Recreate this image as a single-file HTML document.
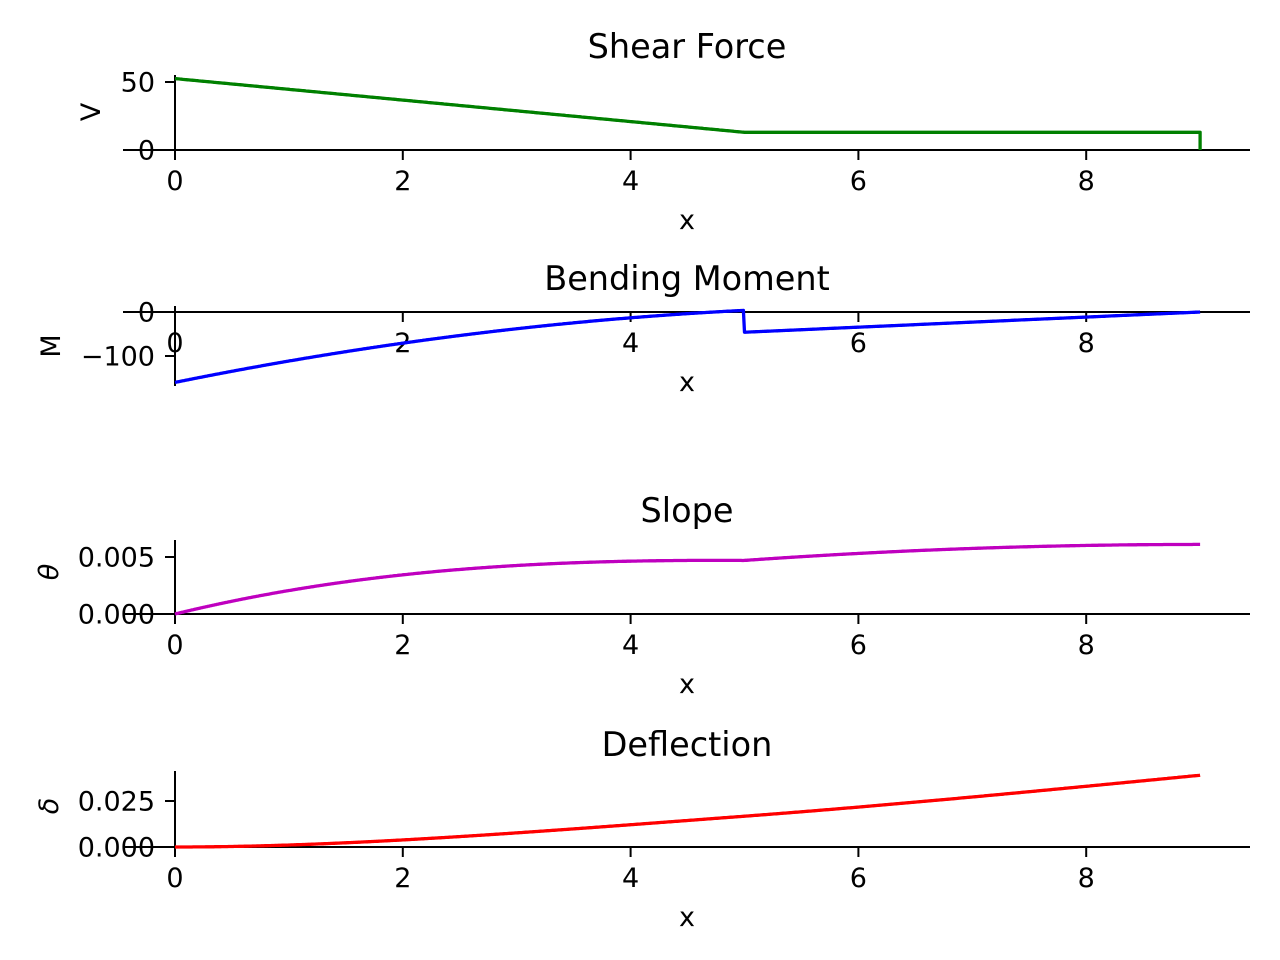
<!DOCTYPE html>
<html><head><meta charset="utf-8"><style>
html,body{margin:0;padding:0;background:#fff;}
svg{display:block;font-family:"DejaVu Sans","Liberation Sans",sans-serif;}
</style></head><body>
<svg id="s" width="1280" height="960" viewBox="0 0 1280 960" xmlns="http://www.w3.org/2000/svg">
<g id="g"></g>
<text x="687" y="58" font-size="33.5" text-anchor="middle">Shear Force</text>
<text x="687" y="290" font-size="33.5" text-anchor="middle">Bending Moment</text>
<text x="687" y="522" font-size="33.5" text-anchor="middle">Slope</text>
<text x="687" y="756" font-size="33.5" text-anchor="middle">Deflection</text>
<text transform="translate(100,112) rotate(-90)" font-size="27" text-anchor="middle">V</text>
<text transform="translate(60,346) rotate(-90)" font-size="27" text-anchor="middle">M</text>
<text transform="translate(58,572) rotate(-90)" font-size="27" font-style="italic" text-anchor="middle">θ</text>
<text transform="translate(58,806) rotate(-90)" font-size="27" font-style="italic" text-anchor="middle">δ</text>
</svg>
<script>
var g=document.getElementById('g');var NS='http://www.w3.org/2000/svg';
function el(t,a,txt){var e=document.createElementNS(NS,t);for(var k in a)e.setAttribute(k,a[k]);if(txt!==undefined)e.textContent=txt;g.appendChild(e);return e;}
function X(x){return 175+x*113.9;}
var panels=[
 {y0:150,top:75,bot:152,yt:[[0,'0',150],[50,'50',82]]},
 {y0:312,top:306,bot:386,yt:[[0,'0',312],[-100,'\u2212100',356]]},
 {y0:614,top:540,bot:616,yt:[[0,'0.000',614],[0,'0.005',557]]},
 {y0:847,top:771,bot:849,yt:[[0,'0.000',847],[0,'0.025',801]]}
];
var N=900,xs=[],V=[],M=[],T=[],D=[];
for(var i=0;i<=N;i++){var x=9*i/N;xs.push(x);
 var v=x<5?52.5-7.9*x:13;V.push(v);
 var m=x<5?-160+52.5*x-3.95*x*x:(-46+11.5*(x-5));M.push(m);}
var th=0;T.push(0);for(var i=1;i<=N;i++){th+=-(M[i]+M[i-1])/2*(9/N);T.push(th);}
var k=0.0047/T[Math.round(5*N/9)];T=T.map(function(t){return t*k;});
var d=0;D.push(0);for(var i=1;i<=N;i++){d+=(T[i]+T[i-1])/2*(9/N);D.push(d);}
var dk=0.039/D[N];D=D.map(function(t){return t*dk;});
panels.forEach(function(p,pi){
 el('line',{x1:123,x2:1250,y1:p.y0,y2:p.y0,stroke:'#000','stroke-width':2});
 el('line',{x1:175,x2:175,y1:p.top,y2:p.bot,stroke:'#000','stroke-width':2});
 for(var t=0;t<=8;t+=2){el('line',{x1:X(t),x2:X(t),y1:p.y0,y2:p.y0+10,stroke:'#000','stroke-width':2});
  el('text',{x:X(t),y:p.y0+40,'font-size':27,'text-anchor':'middle'},String(t));}
 el('text',{x:687,y:p.y0+79,'font-size':27,'text-anchor':'middle'},'x');
 p.yt.forEach(function(q){el('line',{x1:165,x2:175,y1:q[2],y2:q[2],stroke:'#000','stroke-width':2});
  el('text',{x:155,y:q[2]+9.5,'font-size':27,'text-anchor':'end'},q[1]);});
});
function path(arr,fy,col,extra){var s='';for(var i=0;i<=N;i++){s+=(i?'L':'M')+X(xs[i]).toFixed(1)+' '+fy(arr[i]).toFixed(1);}
 if(extra)s+=extra;el('path',{d:s,fill:'none',stroke:col,'stroke-width':3.3,'stroke-linejoin':'round'});}
path(V,function(v){return 150-v*1.36;},'#008000','L'+X(9)+' 150');
path(M,function(v){return 312-v*0.44;},'#0000ff');
path(T,function(v){return 614-v/0.005*57;},'#bf00bf');
path(D,function(v){return 847-v/0.025*46;},'#ff0000');
</script>
</body></html>
